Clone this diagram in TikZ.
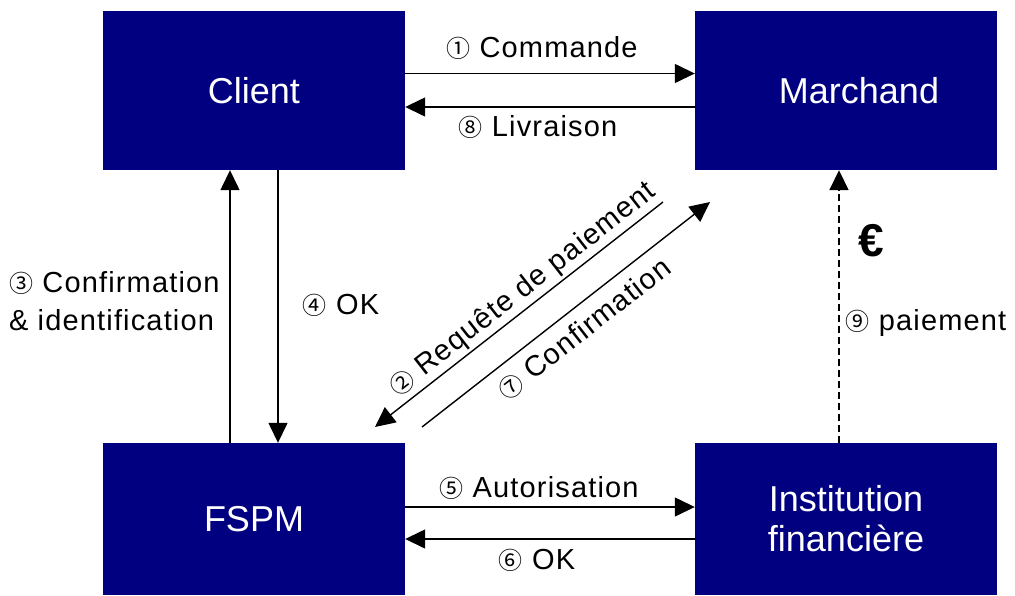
\documentclass[tikz,border=0pt]{standalone}
\usepackage{fontspec}
\setmainfont{Liberation Sans}
\newfontfamily\lblfont[LetterSpace=4]{Liberation Sans}
\newfontfamily\cjkfont{Noto Sans CJK JP}
\usetikzlibrary{arrows.meta}
\definecolor{boxblue}{HTML}{000080}
% circled step numbers
\newcommand{\cnum}[1]{{\cjkfont\fontsize{24}{24}\selectfont #1}}

\begin{document}
\begin{tikzpicture}[x=1pt,y=-1pt,
  party/.style={fill=boxblue, draw=none, minimum width=302pt, text=white,
    font=\fontsize{36}{40}\selectfont, align=center, inner sep=0pt},
  flow/.style={line width=1.4pt, -{Triangle[length=20pt,width=19pt]}},
  lbl/.style={font=\lblfont\fontsize{29}{38}\selectfont, inner sep=0pt}]
\useasboundingbox (0,0) rectangle (1015,595);

% the four parties
\node[party, minimum height=159pt] (client)   at (254,90.5) {Client};
\node[party, minimum height=159pt] (marchand) at (846,90.5) {\hspace*{26pt}Marchand};
\node[party, minimum height=152pt] (fspm)     at (254,519) {\raisebox{-5pt}{FSPM}};
\node[party, minimum height=152pt] (inst)     at (846,519) {\raisebox{-3pt}{Institution}\\\raisebox{-3pt}{financière}};

% client <-> merchant
\draw[flow] ([yshift=17pt]client.east) -- ([yshift=17pt]marchand.west)
  node[lbl, midway, yshift=25pt, xshift=-8pt] {\cnum{①} Commande};
\draw[flow] ([yshift=-16.5pt]marchand.west) -- ([yshift=-16.5pt]client.east)
  node[lbl, midway, yshift=-20pt, xshift=-12pt] {\cnum{⑧} Livraison};

% client <-> FSPM
\draw[flow] ([xshift=-24pt]fspm.north) -- ([xshift=-24pt]client.south);
\draw[flow] ([xshift=24pt]client.south) -- ([xshift=24pt]fspm.north);
\node[lbl, anchor=west, align=left] (lconf) at (9,301)
  {\cnum{③} Confirmation\\\& identification};
\node[lbl] (lok) at (341,305) {\cnum{④} OK};

% FSPM <-> merchant (diagonal)
\coordinate (reqA) at (663,202);
\coordinate (reqB) at (375,427);
\coordinate (cfA)  at (422,427);
\coordinate (cfB)  at (710,202);
\draw[flow] (reqA) -- (reqB);
\draw[flow] (cfA) -- (cfB);
\path (reqB) -- (reqA)
  node[lbl, sloped, above, pos=0.55, inner sep=3pt] (lreq) {\cnum{②} Requête de paiement};
\path (cfA) -- (cfB)
  node[lbl, sloped, below, pos=0.515, inner sep=11pt] (lcf) {\cnum{⑦} Confirmation};

% FSPM <-> financial institution
\draw[flow] ([yshift=12pt]fspm.east) -- ([yshift=12pt]inst.west)
  node[lbl, midway, yshift=19pt, xshift=-11pt] {\cnum{⑤} Autorisation};
\draw[flow] ([yshift=-20pt]inst.west) -- ([yshift=-20pt]fspm.east)
  node[lbl, midway, yshift=-21pt, xshift=-13pt] {\cnum{⑥} OK};

% payment to merchant
\draw[flow, dash pattern=on 7pt off 4pt, line width=1.8pt]
  ([xshift=-7pt]inst.north) -- ([xshift=-7pt]marchand.south);
\node[font=\fontsize{46}{46}\selectfont\bfseries, inner sep=0pt] (euro) at (871,241) {€};
\node[lbl] (lpay) at (926,323) {\cnum{⑨} paiement};
\end{tikzpicture}
\end{document}
